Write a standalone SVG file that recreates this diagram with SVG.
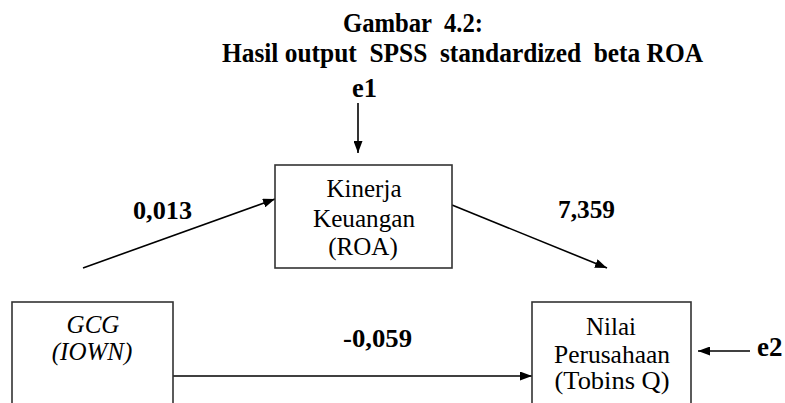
<svg xmlns="http://www.w3.org/2000/svg" width="785" height="403" viewBox="0 0 785 403">
  <defs>
    <marker id="arrow" markerWidth="12" markerHeight="9" refX="12" refY="4.5" orient="auto" markerUnits="userSpaceOnUse">
      <path d="M0,0 L12,4.5 L0,9 z" fill="#000"/>
    </marker>
    <style>
      .box { fill: #fff; stroke: #333; stroke-width: 1.6; }
      .edge { fill: none; stroke: #000; stroke-width: 1.6; marker-end: url(#arrow); }
      .t { font-family: "Liberation Serif", "Times New Roman", serif; fill: #000; }
      .title { font-size: 27px; font-weight: bold; }
      .lbl { font-size: 25px; font-weight: bold; }
      .node { font-size: 25px; text-anchor: middle; }
      .it { font-style: italic; }
    </style>
  </defs>
  <rect width="785" height="403" fill="#fff"/>

  <g id="title">
    <text class="t title" x="343" y="32" textLength="140" lengthAdjust="spacingAndGlyphs" xml:space="preserve">Gambar  4.2:</text>
    <text class="t title" x="222" y="62" textLength="481" lengthAdjust="spacingAndGlyphs" xml:space="preserve">Hasil output  SPSS  standardized  beta ROA</text>
  </g>

  <g id="connectors">
    <line class="edge" x1="358" y1="103" x2="358" y2="153"/>
    <line class="edge" x1="83" y1="268" x2="275" y2="199"/>
    <line class="edge" x1="452" y1="205" x2="607" y2="268"/>
    <line class="edge" x1="173" y1="376" x2="532" y2="376"/>
    <line class="edge" x1="750" y1="351" x2="698" y2="351"/>
    <text class="t lbl" x="133" y="219" textLength="59" lengthAdjust="spacingAndGlyphs">0,013</text>
    <text class="t lbl" x="558" y="218" textLength="57" lengthAdjust="spacingAndGlyphs">7,359</text>
    <text class="t lbl" x="343" y="347" textLength="69" lengthAdjust="spacingAndGlyphs">-0,059</text>
  </g>

  <g id="e1">
    <text class="t title" x="352" y="97" textLength="25" lengthAdjust="spacingAndGlyphs">e1</text>
  </g>

  <g id="e2">
    <text class="t title" x="757" y="356">e2</text>
  </g>

  <g id="kinerja">
    <rect class="box" x="275" y="165" width="177" height="103"/>
    <text class="t node" x="364" y="197">Kinerja</text>
    <text class="t node" x="364" y="227" textLength="102" lengthAdjust="spacingAndGlyphs">Keuangan</text>
    <text class="t node" x="363" y="255">(ROA)</text>
  </g>

  <g id="gcg">
    <rect class="box" x="12" y="302" width="161" height="140"/>
    <text class="t node it" x="93" y="333">GCG</text>
    <text class="t node it" x="92" y="360">(IOWN)</text>
  </g>

  <g id="nilai">
    <rect class="box" x="532" y="302" width="159" height="140"/>
    <text class="t node" x="611" y="335">Nilai</text>
    <text class="t node" x="612" y="363" textLength="116" lengthAdjust="spacingAndGlyphs">Perusahaan</text>
    <text class="t node" x="612" y="389" textLength="115" lengthAdjust="spacingAndGlyphs">(Tobins Q)</text>
  </g>
</svg>
